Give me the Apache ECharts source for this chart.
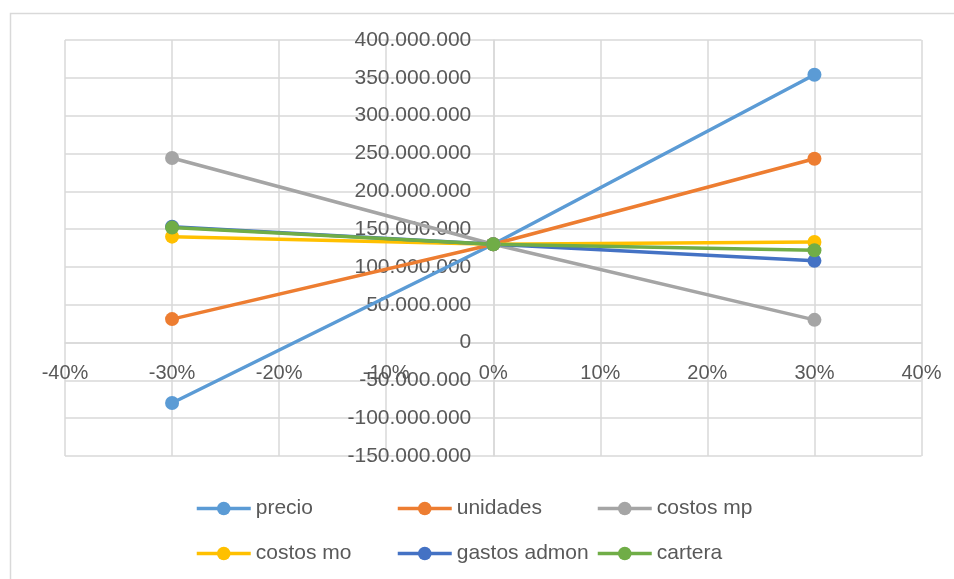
<!DOCTYPE html>
<html>
<head>
<meta charset="utf-8">
<script src="https://cdn.jsdelivr.net/npm/echarts@6/dist/echarts.min.js"></script>
<style>
html,body{margin:0;padding:0;background:#fff;}
#chart{width:954px;height:579px;}
</style>
</head>
<body>
<div id="chart"></div>
<script>
const xValues = [-0.3, 0, 0.3];
const seriesNames = ['precio', 'unidades', 'costos mp', 'costos mo', 'gastos admon', 'cartera'];
const precio = [-80000000, 130000000, 354000000];
const unidades = [31000000, 130000000, 243000000];
const costosMp = [244000000, 130000000, 30000000];
const costosMo = [140000000, 130000000, 133000000];
const gastosAdmon = [153000000, 130000000, 108000000];
const cartera = [152000000, 130000000, 122000000];
const seriesColors = ['#5B9BD5', '#ED7D31', '#A5A5A5', '#FFC000', '#4472C4', '#70AD47'];
const xTicks = { min: -0.4, max: 0.4, interval: 0.1 };
const yTicks = { min: -150000000, max: 400000000, interval: 50000000 };

const allValues = [precio, unidades, costosMp, costosMo, gastosAdmon, cartera];
const FONT = 'Liberation Sans, Arial, sans-serif';
const TXT = '#595959';
const GRID = '#D9D9D9';
const W = 954, H = 579;
const G = { left: 65, right: 32.5, top: 40, bottom: 123 };
const plotW = W - G.left - G.right;
const plotH = H - G.top - G.bottom;
// place axes through the zero of the other axis
const yAxisOffset = -plotW * (0 - xTicks.min) / (xTicks.max - xTicks.min);
const xAxisOffset = -plotH * (0 - yTicks.min) / (yTicks.max - yTicks.min);

function fmtNum(v) {
  const neg = v < 0;
  const s = Math.abs(Math.round(v)).toString().replace(/\B(?=(\d{3})+(?!\d))/g, '.');
  return (neg ? '-' : '') + s;
}

const chart = echarts.init(document.getElementById('chart'));
const series = seriesNames.map((name, i) => ({
  name: name,
  type: 'line',
  data: xValues.map((x, j) => [x, allValues[i][j]]),
  symbol: 'circle',
  symbolSize: 14,
  lineStyle: { width: 3.5, color: seriesColors[i] },
  itemStyle: { color: seriesColors[i] },
  emphasis: { disabled: true },
  animation: false
}));

const legendLefts = [190, 391, 591];
const legendTops = [493, 538];
const legends = seriesNames.map((name, i) => ({
  left: legendLefts[i % 3],
  top: legendTops[Math.floor(i / 3)],
  itemWidth: 54,
  itemHeight: 17,
  itemGap: 0,
  lineStyle: { width: 3.5 },
  selectedMode: false,
  textStyle: { fontFamily: FONT, fontSize: 21, color: TXT },
  data: [name]
}));

chart.setOption({
  animation: false,
  graphic: [{
    type: 'rect',
    left: 8, top: 11,
    shape: { width: 1100, height: 700 },
    style: { fill: 'none', stroke: GRID, lineWidth: 1.5 },
    silent: true, z: -10
  }],
  grid: { left: G.left, right: G.right, top: G.top, bottom: G.bottom, containLabel: false, outerBoundsMode: 'none' },
  xAxis: {
    type: 'value',
    position: 'bottom',
    offset: xAxisOffset,
    min: xTicks.min, max: xTicks.max, interval: xTicks.interval,
    axisLine: { onZero: false, lineStyle: { color: GRID, width: 1.5 } },
    axisTick: { show: false },
    splitLine: { show: true, lineStyle: { color: GRID, width: 1.5 } },
    axisLabel: {
      margin: 21,
      fontFamily: FONT, fontSize: 20, color: TXT,
      formatter: v => Math.round(v * 100) + '%'
    }
  },
  yAxis: {
    type: 'value',
    position: 'left',
    offset: yAxisOffset,
    min: yTicks.min, max: yTicks.max, interval: yTicks.interval,
    axisLine: { show: true, onZero: false, lineStyle: { color: GRID, width: 1.5 } },
    axisTick: { show: false },
    splitLine: { show: true, lineStyle: { color: GRID, width: 1.5 } },
    axisLabel: {
      margin: 22,
      fontFamily: FONT, fontSize: 21, color: TXT,
      formatter: v => fmtNum(v)
    }
  },
  legend: legends,
  series: series
});
</script>
</body>
</html>
